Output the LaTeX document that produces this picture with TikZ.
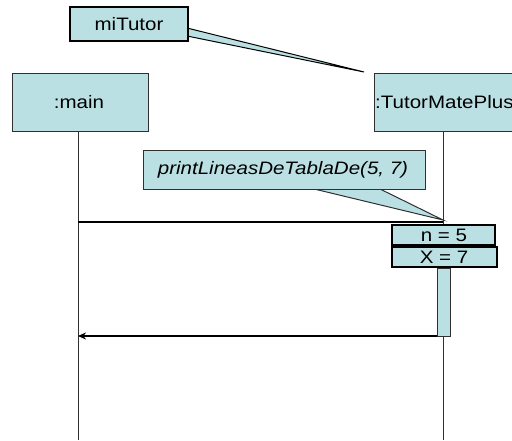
\documentclass[tikz,border=0pt]{standalone}
\usepackage{fontspec}
\setmainfont{Liberation Sans}[FakeStretch=1.14]
\usetikzlibrary{arrows.meta}
\definecolor{uml}{HTML}{BBE0E3}
\definecolor{edge}{HTML}{303030}
\tikzset{
  x=1pt, y=-1pt,
  lbl/.style={font=\fontsize{18}{18}\selectfont, inner sep=0pt},
  objbox/.style={draw=edge, line width=1pt, fill=uml},
  notebox/.style={draw=black, line width=2pt, fill=uml},
  lifeline/.style={draw=edge, line width=1pt},
  msg/.style={draw=black, line width=2pt},
}
\begin{document}
\begin{tikzpicture}
\useasboundingbox (0,0) rectangle (512,440);
\clip (0,0) rectangle (512,440);

% lifelines
\coordinate (mainTop) at (78,131);
\coordinate (mainBot) at (78,440);
\coordinate (tutTop) at (443,131);
\coordinate (tutBot) at (443,440);
\draw[lifeline] (mainTop) -- (mainBot);
\draw[lifeline] (tutTop) -- (tutBot);

% object boxes
\draw[objbox] (12,73) rectangle (148,131);
\node[lbl] (main) at (79,102) {:main};
\draw[objbox] (374,73) rectangle (530,131);
\node[lbl, anchor=west] (tutor) at (375,102) {:TutorMatePlus};

% instance name note with its callout
\filldraw[fill=uml, draw=black, line width=1pt] (187,28) -- (364,72) -- (187,36) -- cycle;
\draw[notebox] (70,7) rectangle (188,41);
\node[lbl] (mitutor) at (129,24) {miTutor};

% message label note with its callout
\filldraw[fill=uml, draw=edge, line width=1pt] (310,188) -- (443,220) -- (378,188) -- cycle;
\draw[objbox] (143,150) rectangle (425,189);
\node[lbl] (call) at (283,170) {\itshape printLineasDeTablaDe(5, 7)};

% call message
\coordinate (callStart) at (78,222);
\coordinate (callEnd) at (443,222);
\draw[msg] (callStart) -- (callEnd);

% activation bar and parameter boxes
\draw[draw=edge, line width=1pt, fill=uml] (437,268) rectangle (450,336);
\draw[notebox] (392,225) rectangle (495,245);
\node[lbl] (pn) at (444,235) {n = 5};
\draw[notebox] (392,247) rectangle (497,267);
\node[lbl] (px) at (444,257) {X = 7};

% return message
\coordinate (retStart) at (437,336);
\coordinate (retEnd) at (78,336);
\draw[msg, -{Stealth[length=8pt,width=7pt]}] (retStart) -- (retEnd);
\end{tikzpicture}
\end{document}
